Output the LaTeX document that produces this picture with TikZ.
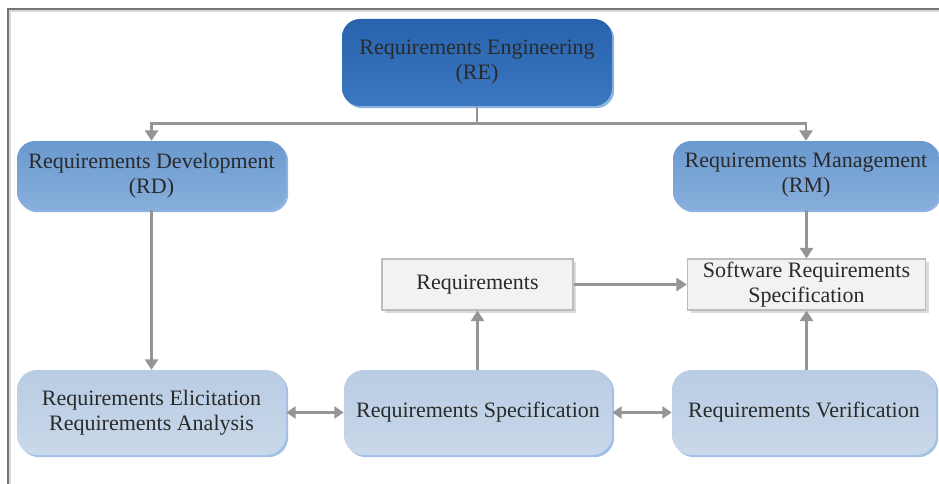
\documentclass[tikz,border=0pt]{standalone}
\usepackage{fontspec}
\setmainfont{Liberation Serif}
\usetikzlibrary{arrows.meta,shadows}

\definecolor{reTop}{HTML}{2862AE}
\definecolor{reBot}{HTML}{3B78C0}
\definecolor{reShadow}{HTML}{8DB3E2}
\definecolor{midTop}{HTML}{6A99CF}
\definecolor{midBot}{HTML}{88AFDC}
\definecolor{lowTop}{HTML}{B9CCE3}
\definecolor{lowBot}{HTML}{C9D8EA}
\definecolor{lowShadow}{HTML}{A3C0E6}
\definecolor{docFill}{HTML}{F1F2F4}
\definecolor{docLine}{HTML}{BDBDBD}
\definecolor{docShadow}{HTML}{DADADA}
\definecolor{linkGray}{HTML}{959595}
\definecolor{inkText}{HTML}{2A2A2A}
\definecolor{frameDark}{HTML}{757575}
\definecolor{frameLight}{HTML}{D9D9D9}

\tikzset{
  x=1pt, y=-1pt,
  base/.style={align=center, text=inkText, inner sep=0pt,
    font=\fontsize{22}{25}\selectfont},
  roundbox/.style={base, rectangle, rounded corners=18pt, draw=none,
    drop shadow={shadow xshift=2.2pt, shadow yshift=-2.2pt, opacity=1, fill=#1}},
  topbox/.style={roundbox=reShadow, top color=reTop, bottom color=reBot,
    minimum width=270pt, minimum height=87pt},
  midbox/.style={roundbox=reShadow, top color=midTop, bottom color=midBot,
    minimum width=269pt, minimum height=69pt},
  lowbox/.style={roundbox=lowShadow, top color=lowTop, bottom color=lowBot,
    minimum height=85pt, rounded corners=20pt},
  docbox/.style={base, rectangle, fill=docFill, draw=docLine, line width=1.2pt,
    minimum height=51pt,
    drop shadow={shadow xshift=3pt, shadow yshift=-3pt, opacity=1, fill=docShadow}},
  link/.style={draw=linkGray, line width=2.8pt,
    -{Triangle[length=10.5pt, width=13pt]}},
  biLink/.style={draw=linkGray, line width=2.8pt,
    {Triangle[length=9.5pt, width=12pt]}-{Triangle[length=9.5pt, width=12pt]}},
  frameline/.style={line width=2pt, draw=frameDark},
  frameinner/.style={line width=2pt, draw=frameLight}
}

\begin{document}
\begin{tikzpicture}
  \useasboundingbox (0,0) rectangle (939,484);
  \begin{scope}
    \clip (0,0) rectangle (939,484);
    % outer frame (only top and left edges fall inside the page)
    \draw[frameinner] (9.5,490) -- (9.5,11.5) -- (945,11.5);
    \draw[frameline] (7.5,490) -- (7.5,9) -- (945,9);

    % hierarchy
    \node[topbox] (re) at (477,62.5) {Requirements Engineering\\(RE)};
    \node[midbox] (rd) at (151.5,175.5) {Requirements Development\\(RD)};
    \node[midbox, minimum width=266pt] (rm) at (806,175.5) {Requirements Management\\(RM)};

    % process steps
    \node[lowbox, minimum width=269pt] (elic) at (151.5,412.5)
      {Requirements Elicitation\\Requirements Analysis};
    \node[lowbox, minimum width=268pt] (spec) at (478,412.5) {Requirements Specification};
    \node[lowbox, minimum width=264pt] (verif) at (804,412.5) {Requirements Verification};

    % documents
    \node[docbox, minimum width=191pt] (req) at (477.5,284.5) {Requirements};
    \node[docbox, minimum width=238pt] (srs) at (806.5,284.5)
      {Software Requirements\\Specification};

    % connectors
    \coordinate (split) at ([yshift=-17pt]re.south);
    \draw[draw=linkGray, line width=2.8pt] (re.south) -- (split);
    \draw[link] (split) -| (rd.north);
    \draw[link] (split) -| (rm.north);
    \draw[link] (rd.south) -- (elic.north);
    \draw[link] (rm.south -| srs.north) -- (srs.north);
    \draw[link] (req.east) -- (srs.west |- req.east);
    \draw[link] (spec.north -| req.south) -- (req.south);
    \draw[link] (verif.north -| srs.south) -- (srs.south);
    \draw[biLink] (elic.east) -- (spec.west);
    \draw[biLink] (spec.east) -- (verif.west);
  \end{scope}
\end{tikzpicture}
\end{document}
